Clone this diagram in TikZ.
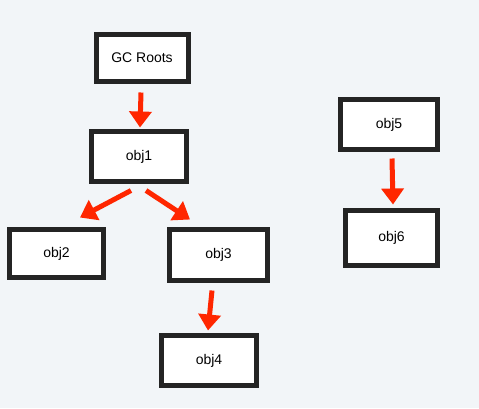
\documentclass[tikz,border=0pt]{standalone}
\usepackage{fontspec}
\setmainfont{Liberation Sans}
\usetikzlibrary{arrows.meta,shadows,calc}
\definecolor{bg}{RGB}{242,245,248}
\definecolor{boxline}{RGB}{36,36,36}
\definecolor{arrred}{RGB}{255,38,0}
\begin{document}
\begin{tikzpicture}[x=1pt,y=-1pt,
  objbox/.style={draw=boxline, line width=5pt, fill=white, inner sep=0pt,
    font=\fontsize{14}{16}\selectfont,
    drop shadow={shadow xshift=2pt, shadow yshift=-2pt, opacity=0.3, fill=black}},
  redarrow/.style={draw=arrred, line width=5pt,
    -{Triangle[width=22pt,length=16pt]}}]
\fill[bg] (0,0) rectangle (479,408);
\useasboundingbox (0,0) rectangle (479,408);
\node[objbox, minimum width=92pt, minimum height=47pt] (gc) at (142,58) {GC Roots};
\node[objbox, minimum width=95pt, minimum height=50pt] (o1) at (139,156.5) {obj1};
\node[objbox, minimum width=94pt, minimum height=48pt] (o2) at (56.5,253.5) {obj2};
\node[objbox, minimum width=98pt, minimum height=51pt] (o3) at (218.5,255) {obj3};
\node[objbox, minimum width=95pt, minimum height=50pt] (o4) at (209,360.5) {obj4};
\node[objbox, minimum width=97pt, minimum height=50pt] (o5) at (389,124.5) {obj5};
\node[objbox, minimum width=92pt, minimum height=55pt] (o6) at (391.5,238) {obj6};
\draw[redarrow] ($(gc.south)+(-1,8.5)$) -- ($(o1.north)+(1,-1.5)$);
\draw[redarrow] ($(o1.south)+(-8,6.5)$) -- ($(o2.north)+(23.5,-9.5)$);
\draw[redarrow] ($(o1.south)+(7,6.5)$) -- ($(o3.north)+(-28.5,-7.5)$);
\draw[redarrow] ($(o3.south)+(-6.5,7.5)$) -- ($(o4.north)+(-1,-2.5)$);
\draw[redarrow] ($(o5.south)+(3,6.5)$) -- ($(o6.north)+(1.5,-3.5)$);
\end{tikzpicture}
\end{document}
